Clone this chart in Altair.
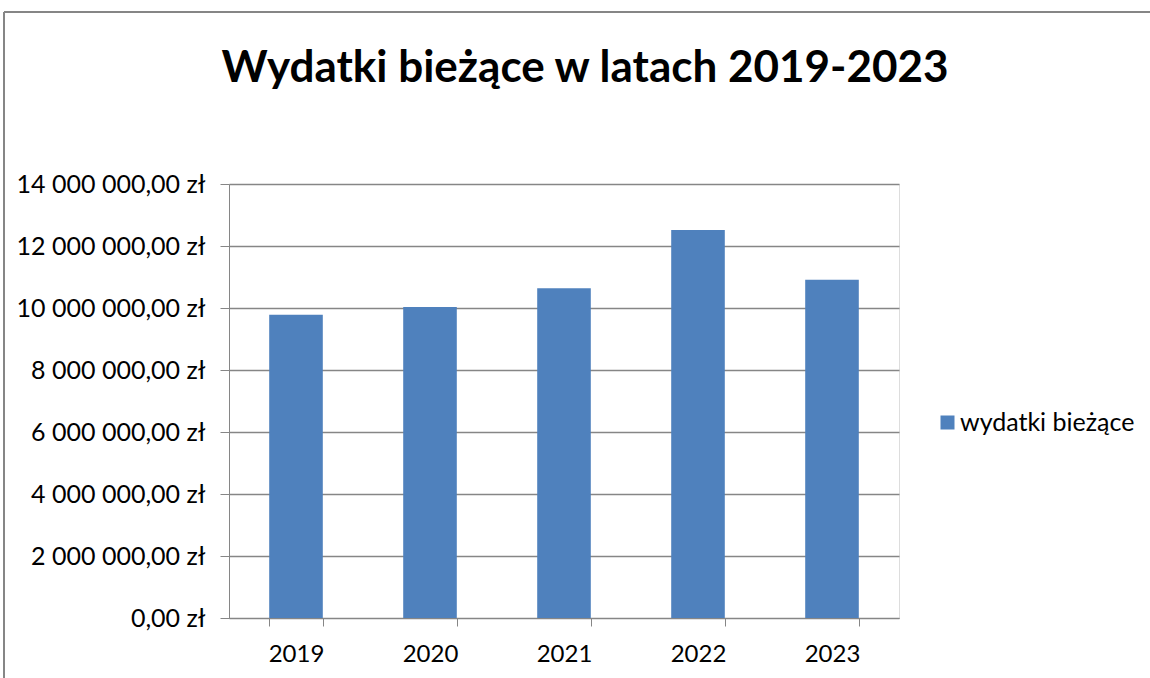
import altair as alt
import pandas as pd

years = ["2019", "2020", "2021", "2022", "2023"]
values = [9780000, 10030000, 10640000, 12520000, 10910000]
series = ["wydatki bieżące"] * 5
y_ticks = [0, 2000000, 4000000, 6000000, 8000000, 10000000, 12000000, 14000000]

df = pd.DataFrame({"rok": years, "wartosc": values, "seria": series})

FONT = "Lato"
GRAY = "#868686"
BLUE = "#4F81BD"

bars = alt.Chart(df).mark_bar(color=BLUE).encode(
    x=alt.X("rok:N", title=None,
            scale=alt.Scale(paddingInner=0.6, paddingOuter=0.3),
            axis=alt.Axis(labelAngle=0, tickBand="extent", tickSize=8,
                          labelPadding=16, domainColor=GRAY, tickColor=GRAY,
                          labelFont=FONT, labelFontSize=24, labelColor="black",
                          grid=False, labelLimit=0)),
    y=alt.Y("wartosc:Q", title=None,
            scale=alt.Scale(domain=[0, 14000000], nice=False),
            axis=alt.Axis(values=y_ticks, format="$,.2f", tickSize=9,
                          labelPadding=15, domainColor=GRAY, tickColor=GRAY,
                          gridColor=GRAY, gridWidth=1.3, labelFont=FONT,
                          labelFontSize=25, labelColor="black", labelLimit=0)),
    color=alt.Color("seria:N", scale=alt.Scale(range=[BLUE]),
                    legend=alt.Legend(title=None, orient="none", legendX=706,
                                      legendY=226, symbolType="square",
                                      symbolSize=196, symbolStrokeWidth=0,
                                      labelFont=FONT, labelFontSize=25,
                                      labelColor="black", labelOffset=0,
                                      labelLimit=0)),
)

frame_data = alt.Data(values=[{}])
left_line = alt.Chart(frame_data).mark_rule(color=GRAY, strokeWidth=2).encode(
    x=alt.value(-225), y=alt.value(-172), y2=alt.value(500))
top_line = alt.Chart(frame_data).mark_rule(color=GRAY, strokeWidth=2).encode(
    y=alt.value(-172), x=alt.value(-225), x2=alt.value(930))

chart = alt.layer(bars, left_line, top_line).properties(
    width=670, height=434,
    padding={"left": 229, "top": 184, "right": 251, "bottom": 60},
    autosize=alt.AutoSizeParams(type="none"),
    title=alt.TitleParams("Wydatki bieżące w latach 2019-2023", font=FONT,
                          fontSize=44, fontWeight="bold", color="black",
                          anchor="middle", offset=20, dx=21, dy=100),
).configure_view(stroke=None).configure(background="white")

chart.save("out.html", embed_options={
    "renderer": "svg", "actions": False,
    "formatLocale": {"decimal": ",", "thousands": "\u00a0", "grouping": [3],
                     "currency": ["", " zł"]}})
